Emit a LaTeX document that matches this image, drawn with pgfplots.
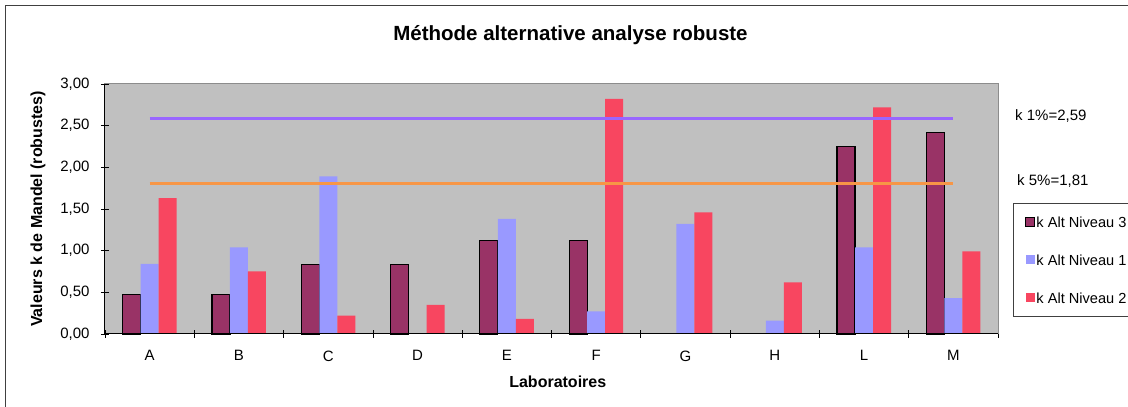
\documentclass[border=0pt]{standalone}
\usepackage{fontspec}
\setmainfont{Liberation Sans}
\usepackage{pgfplots}
\pgfplotsset{compat=1.18}

\definecolor{nivtrois}{RGB}{153,51,102}
\definecolor{nivun}{RGB}{153,153,255}
\definecolor{nivdeux}{RGB}{248,70,96}
\definecolor{ligneun}{RGB}{153,102,255}
\definecolor{lignecinq}{RGB}{247,150,70}
\definecolor{fondgris}{RGB}{192,192,192}

% petit carre de legende, decale vers la droite
\newcommand\carre[1]{\path (0pt,0pt); \draw[#1] (4pt,-4.5pt) rectangle (13pt,4.5pt);}

\begin{document}
\begin{tikzpicture}[x=1pt,y=1pt]
\useasboundingbox (0,0) rectangle (1128,407);
\clip (0,0) rectangle (1128,407);
\draw[line width=1pt, black!75] (5.5,401.5) rectangle (1140,-10);

\node[font=\bfseries\fontsize{20.5}{24}\selectfont] at (570.5,371.5) {Méthode alternative analyse robuste};

\begin{axis}[
  at={(105pt,73pt)}, anchor=south west,
  scale only axis, width=893pt, height=250pt,
  clip=false,
  xmin=-0.5, xmax=9.5, ymin=0, ymax=3,
  xtick={0,...,9}, xticklabels={A,B,C,D,E,F,G,H,L,M},
  minor xtick={-0.5,0.5,1.5,2.5,3.5,4.5,5.5,6.5,7.5,8.5,9.5},
  ytick={0,0.5,1,1.5,2,2.5,3},
  xtick pos=bottom, ytick pos=left,
  major x tick style={draw=none},
  tick align=center, major tick length=8pt, minor tick length=8pt,
  tick style={black, line width=0.8pt},
  axis background/.style={fill=fondgris},
  axis line style={draw=black!45, line width=1pt},
  /pgf/number format/assume math mode=true,
  ticklabel style={font=\fontsize{15}{18}\selectfont},
  yticklabel style={xshift=-8pt, /pgf/number format/.cd, fixed, fixed zerofill, precision=2, use comma},
  xticklabel style={yshift=-9pt},
  xlabel={Laboratoires},
  ylabel={Valeurs k de Mandel (robustes)},
  label style={font=\bfseries\fontsize{16}{19}\selectfont},
  xlabel style={at={(axis description cs:0.507,-0.19)}, anchor=center},
  ylabel style={at={(axis description cs:-0.075,0.5)}, anchor=center},
  legend style={at={(1.0165,0.5252)}, anchor=north west, draw=black!75, line width=1pt,
    font=\fontsize{14.6}{18}\selectfont, row sep=25pt, inner ysep=12pt, inner xsep=8pt,
    nodes={text height=11pt, text depth=0pt, inner sep=1pt}},
  legend cell align=left,
]
\addplot[ybar, bar width=18pt, bar shift=-18pt, fill=nivtrois, draw=black, line width=1.2pt,
  legend image code/.code={\carre{fill=nivtrois, draw=black, line width=1.2pt}}]
  coordinates {(0,0.47) (1,0.47) (2,0.83) (3,0.83) (4,1.12) (5,1.12) (8,2.25) (9,2.42)};
\addplot[ybar, bar width=18pt, bar shift=0pt, fill=nivun, draw=none,
  legend image code/.code={\carre{fill=nivun, draw=none}}]
  coordinates {(0,0.84) (1,1.04) (2,1.89) (4,1.38) (5,0.27) (6,1.32) (7,0.16) (8,1.04) (9,0.43)};
\addplot[ybar, bar width=18pt, bar shift=18pt, fill=nivdeux, draw=none,
  legend image code/.code={\carre{fill=nivdeux, draw=none}}]
  coordinates {(0,1.63) (1,0.75) (2,0.22) (3,0.35) (4,0.18) (5,2.82) (6,1.46) (7,0.62) (8,2.72) (9,0.99)};
\addplot[sharp plot, ligneun, line width=3pt, forget plot] coordinates {(0,2.59) (9,2.59)};
\addplot[sharp plot, lignecinq, line width=3pt, forget plot] coordinates {(0,1.81) (9,1.81)};
\draw[black, line width=1pt] (rel axis cs:0,1) -- (rel axis cs:0,0) -- (rel axis cs:1,0);
\legend{k Alt Niveau 3, k Alt Niveau 1, k Alt Niveau 2}
\end{axis}

\node[anchor=west, inner sep=0pt, font=\fontsize{15}{18}\selectfont] at (1015,291) {k 1\%=2,59};
\node[anchor=west, inner sep=0pt, font=\fontsize{15}{18}\selectfont] at (1017,226) {k 5\%=1,81};
\end{tikzpicture}
\end{document}
